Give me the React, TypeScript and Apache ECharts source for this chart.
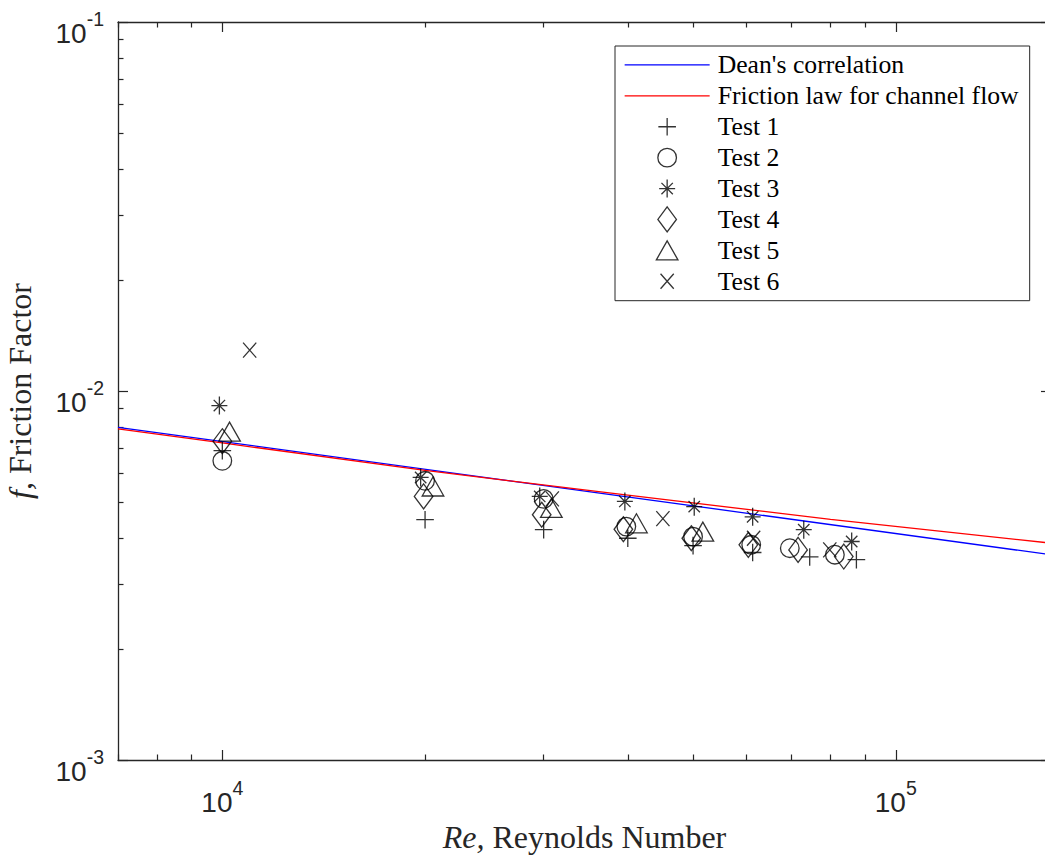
import React, { useEffect, useRef } from "react";
import * as echarts from "echarts";

// ---- axis ticks ----
const xMajorTicks = [1e4, 1e5];
const xMinorTicks = [7000, 8000, 9000, 20000, 30000, 40000, 50000, 60000, 70000, 80000, 90000];
const yMajorTicks = [0.001, 0.01, 0.1];
const yMinorTicks = [
  0.002, 0.003, 0.004, 0.005, 0.006, 0.007, 0.008, 0.009,
  0.02, 0.03, 0.04, 0.05, 0.06, 0.07, 0.08, 0.09,
];

// ---- correlations ----
const deanRe = [7000, 170000];
const deanF = [0.00797, 0.0036];
const channelRe = [7000, 10000, 20000, 40000, 80000, 170000];
const channelF = [0.00789, 0.00723, 0.00609, 0.00522, 0.00449, 0.00387];

// ---- tests ----
const test1Re = [10000, 20000, 30000, 40000, 50000, 61300, 74500, 87400];
const test1F = [0.00689, 0.00448, 0.00421, 0.00399, 0.00381, 0.00365, 0.00355, 0.00349];
const test2Re = [10000, 20000, 30000, 39800, 50000, 61000, 69600, 81200];
const test2F = [0.00647, 0.00571, 0.0051, 0.00429, 0.00403, 0.00383, 0.00375, 0.0036];
const test3Re = [9900, 19700, 29600, 39600, 50200, 61300, 73000, 86000];
const test3F = [0.00913, 0.00583, 0.00518, 0.00502, 0.00486, 0.00456, 0.00421, 0.00391];
const test4Re = [10000, 19900, 29800, 39400, 49700, 60400, 71600, 83700];
const test4F = [0.00731, 0.00518, 0.00462, 0.00422, 0.00399, 0.00383, 0.00371, 0.00356];
const test5Re = [10250, 20550, 30800, 41200, 51700];
const test5F = [0.00776, 0.00551, 0.00482, 0.00438, 0.00416];
const test6Re = [10980, 30900, 45100, 61500, 79800];
const test6F = [0.0129, 0.0051, 0.00451, 0.00399, 0.00371];

const seriesNames = [
  "Dean's correlation",
  "Friction law for channel flow",
  "Test 1",
  "Test 2",
  "Test 3",
  "Test 4",
  "Test 5",
  "Test 6",
];

const AXIS = "#262626";
const SANS = "Liberation Sans";
const SERIF = "Liberation Serif";

// marker shapes, all drawn in a common 26x26 box
const PAD = "M 0 0 M 26 26 ";
const SYM_PLUS = "path://" + PAD + "M 13 4.2 L 13 21.8 M 4.2 13 L 21.8 13";
const SYM_CIRCLE =
  "path://" + PAD + "M 3.7 13 A 9.3 9.3 0 1 0 22.3 13 A 9.3 9.3 0 1 0 3.7 13 Z";
const SYM_STAR =
  "path://" + PAD + "M 13 4 L 13 22 M 5 13 L 21 13 M 7.3 7.3 L 18.7 18.7 M 18.7 7.3 L 7.3 18.7";
const SYM_DIAMOND = "path://" + PAD + "M 13 0.5 L 22.3 13 L 13 25.5 L 3.7 13 Z";
const SYM_TRIANGLE = "path://" + PAD + "M 13 3.5 L 23.8 22.5 L 2.2 22.5 Z";
const SYM_CROSS = "path://" + PAD + "M 6.4 5.5 L 19.6 20.5 M 19.6 5.5 L 6.4 20.5";

const zip = (xs: number[], ys: number[]) => xs.map((x, i) => [x, ys[i]]);

const labelRich = {
  b: { fontFamily: SANS, fontSize: 28, color: AXIS, lineHeight: 38, verticalAlign: "bottom" },
  s: { fontFamily: SANS, fontSize: 19.5, color: AXIS, lineHeight: 20, verticalAlign: "top" },
};

const powFormatter = (v: number) => {
  const e = Math.round(Math.log10(v));
  return `{b|10}{s|${e}}`;
};

const TITLE_SIZE = 32;

const titleStyle = (size: number) => ({
  fontFamily: SERIF,
  fontSize: size,
  color: AXIS,
  rich: { i: { fontFamily: SERIF, fontSize: size, fontStyle: "italic", color: AXIS } },
});

function App() {
  const ref = useRef<HTMLDivElement>(null);

  useEffect(() => {
    const chart = echarts.init(ref.current!, null, { renderer: "svg" });

    const gridRect = {
      left: 118,
      top: 22,
      right: -6,
      bottom: 98,
      containLabel: false,
      outerBoundsMode: "none",
    };

    const xBase = (gridIndex: number, position: string) => ({
      type: "log",
      logBase: 10,
      min: 7000,
      max: 170000,
      gridIndex,
      position,
      splitLine: { show: false },
      axisLine: { show: false },
      axisLabel: { show: false },
    });
    const yBase = (gridIndex: number, position: string) => ({
      type: "log",
      logBase: 10,
      min: 0.001,
      max: 0.1,
      gridIndex,
      position,
      splitLine: { show: false },
      axisLine: { show: false },
      axisLabel: { show: false },
    });

    const majorTick = (vals: number[]) => ({
      show: true,
      inside: true,
      length: 10,
      customValues: vals,
      lineStyle: { color: AXIS, width: 1.2 },
    });
    const minorTick = (vals: number[]) => ({
      show: true,
      inside: true,
      length: 5.5,
      customValues: vals,
      lineStyle: { color: AXIS, width: 1.2 },
    });

    const scatter = (name: string, symbol: string, re: number[], f: number[]) => ({
      name,
      type: "scatter",
      xAxisIndex: 0,
      yAxisIndex: 0,
      symbol,
      symbolSize: 26,
      symbolKeepAspect: true,
      data: zip(re, f),
      itemStyle: { color: "rgba(0,0,0,0)", borderColor: "#000", borderWidth: 1.3 },
      z: 3,
    });

    const option: any = {
      animation: false,
      backgroundColor: "#fff",
      grid: [{ ...gridRect }, { ...gridRect }],
      xAxis: [
        {
          ...xBase(0, "bottom"),
          axisLine: { show: true, lineStyle: { color: AXIS, width: 1.3 } },
          axisTick: majorTick(xMajorTicks),
          axisLabel: {
            show: true,
            customValues: xMajorTicks,
            margin: 18,
            formatter: powFormatter,
            rich: labelRich,
          },
          name: "{i|Re,} Reynolds Number",
          nameLocation: "middle",
          nameGap: 54,
          nameTextStyle: titleStyle(TITLE_SIZE),
        },
        {
          ...xBase(0, "top"),
          axisLine: { show: true, lineStyle: { color: AXIS, width: 1.3 } },
          axisTick: majorTick(xMajorTicks),
        },
        { ...xBase(1, "bottom"), axisTick: minorTick(xMinorTicks) },
        { ...xBase(1, "top"), axisTick: minorTick(xMinorTicks) },
      ],
      yAxis: [
        {
          ...yBase(0, "left"),
          axisLine: { show: true, lineStyle: { color: AXIS, width: 1.3 } },
          axisTick: majorTick(yMajorTicks),
          axisLabel: {
            show: true,
            customValues: yMajorTicks,
            margin: 14,
            padding: [12, 0, 0, 0],
            formatter: powFormatter,
            rich: labelRich,
          },
          name: "{i|f,} Friction Factor",
          nameLocation: "middle",
          nameGap: 82,
          nameTextStyle: titleStyle(TITLE_SIZE),
        },
        {
          ...yBase(0, "right"),
          axisLine: { show: true, lineStyle: { color: AXIS, width: 1.3 } },
          axisTick: majorTick(yMajorTicks),
        },
        { ...yBase(1, "left"), axisTick: minorTick(yMinorTicks) },
        { ...yBase(1, "right"), axisTick: minorTick(yMinorTicks) },
      ],
      legend: {
        data: [
          { name: seriesNames[0], itemStyle: { opacity: 0 } },
          { name: seriesNames[1], itemStyle: { opacity: 0 } },
          ...seriesNames.slice(2),
        ],
        orient: "vertical",
        left: 615,
        top: 46,
        padding: [3.5, 11, 4, 9],
        itemWidth: 85,
        itemHeight: 26,
        itemGap: 0,
        symbolKeepAspect: true,
        backgroundColor: "#fff",
        borderColor: AXIS,
        borderWidth: 1,
        borderRadius: 0,
        selectedMode: false,
        itemStyle: { borderWidth: 1.3 },
        lineStyle: { width: 1.3 },
        textStyle: {
          fontFamily: SERIF,
          fontSize: 25.7,
          color: "#000",
          lineHeight: 30.9,
          padding: [0, 0, 0, 3],
        },
      },
      series: [
        {
          name: seriesNames[0],
          type: "line",
          xAxisIndex: 0,
          yAxisIndex: 0,
          symbol: "none",
          showSymbol: false,
          color: "#0000ff",
          lineStyle: { color: "#0000ff", width: 1.3 },
          data: zip(deanRe, deanF),
          z: 2,
        },
        {
          name: seriesNames[1],
          type: "line",
          xAxisIndex: 0,
          yAxisIndex: 0,
          symbol: "none",
          showSymbol: false,
          color: "#ff0000",
          lineStyle: { color: "#ff0000", width: 1.3 },
          data: zip(channelRe, channelF),
          z: 2,
        },
        scatter(seriesNames[2], SYM_PLUS, test1Re, test1F),
        scatter(seriesNames[3], SYM_CIRCLE, test2Re, test2F),
        scatter(seriesNames[4], SYM_STAR, test3Re, test3F),
        scatter(seriesNames[5], SYM_DIAMOND, test4Re, test4F),
        scatter(seriesNames[6], SYM_TRIANGLE, test5Re, test5F),
        scatter(seriesNames[7], SYM_CROSS, test6Re, test6F),
      ],
    };

    chart.setOption(option);
    return () => chart.dispose();
  }, []);

  return (
    <div
      ref={ref}
      style={{ position: "fixed", left: 0, top: 0, width: 1045, height: 858, background: "#fff" }}
    />
  );
}

export default App;
